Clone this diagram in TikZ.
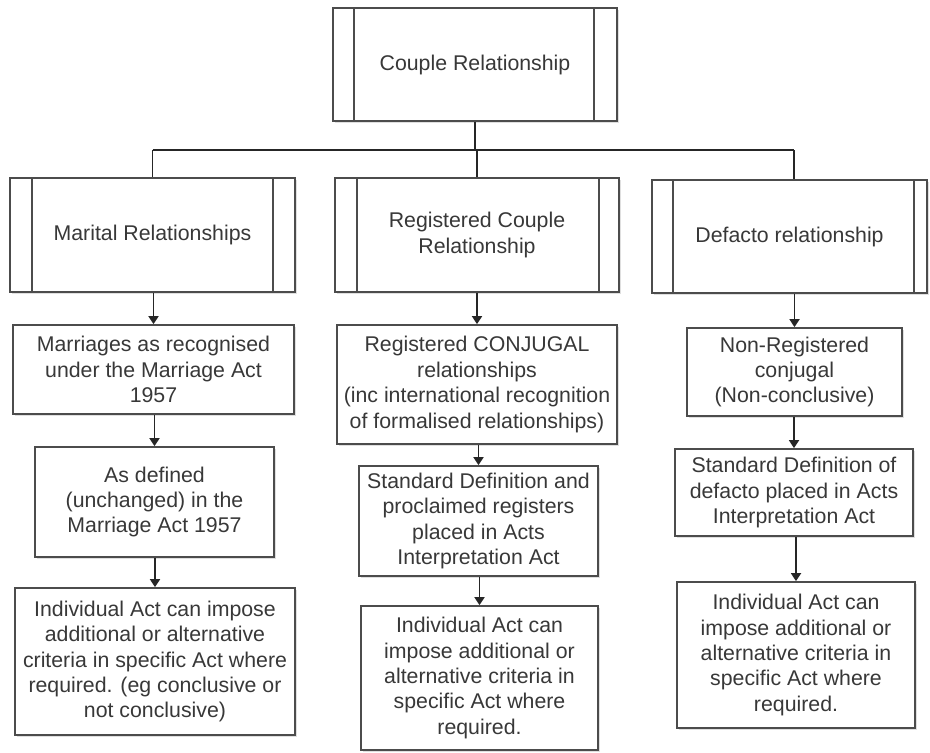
\documentclass[tikz,border=0pt]{standalone}
\usepackage{fontspec}
\setmainfont{Liberation Sans}
\usetikzlibrary{arrows.meta,shadows}
\begin{document}
\begin{tikzpicture}[x=1pt,y=-1pt,
  box/.style={draw=black!70, line width=1.8pt, fill=white, inner sep=0pt, align=center,
    font=\fontsize{21.3}{25.4}\selectfont, text=black!78,
    drop shadow={shadow xshift=1.5pt, shadow yshift=-2pt, opacity=0.25}},
  conn/.style={draw=black!85, line width=1.8pt},
  arr/.style={conn, -{Triangle[length=8pt,width=10pt]}},
  inner/.style={draw=black!70, line width=1.8pt}]
\useasboundingbox (0,0) rectangle (930,753);
\fill[white] (0,0) rectangle (930,753);

% top level
\node[box, minimum width=284pt, minimum height=113pt] (top) at (475,64.5) {Couple Relationship};

% second level (predefined process boxes)
\node[box, minimum width=285pt, minimum height=114pt] (marital) at (152.5,235) {Marital Relationships};
\node[box, minimum width=284pt, minimum height=114pt] (regcouple) at (477,235) {Registered Couple\\Relationship};
\node[box, minimum width=275pt, minimum height=113pt] (defacto) at (789.5,236.5) {Defacto relationship};

% inner lines of predefined-process boxes
\draw[inner] ([xshift=22pt]top.north west) -- ([xshift=22pt]top.south west);
\draw[inner] ([xshift=-24pt]top.north east) -- ([xshift=-24pt]top.south east);
\draw[inner] ([xshift=23pt]marital.north west) -- ([xshift=23pt]marital.south west);
\draw[inner] ([xshift=-23pt]marital.north east) -- ([xshift=-23pt]marital.south east);
\draw[inner] ([xshift=23pt]regcouple.north west) -- ([xshift=23pt]regcouple.south west);
\draw[inner] ([xshift=-21pt]regcouple.north east) -- ([xshift=-21pt]regcouple.south east);
\draw[inner] ([xshift=22pt]defacto.north west) -- ([xshift=22pt]defacto.south west);
\draw[inner] ([xshift=-14pt]defacto.north east) -- ([xshift=-14pt]defacto.south east);

% left column
\node[box, minimum width=281pt, minimum height=89pt] (marriages) at (153.5,369.5) {Marriages as recognised\\under the Marriage Act\\1957};
\node[box, minimum width=239pt, minimum height=110pt] (asdefined) at (154.5,502) {As defined\\(unchanged) in the\\Marriage Act 1957};
\node[box, minimum width=280pt, minimum height=147pt] (indivl) at (155,661.5) {Individual Act can impose\\additional or alternative\\criteria in specific Act where\\required. (eg conclusive or\\not conclusive)};

% middle column
\node[box, minimum width=280pt, minimum height=119pt] (regconj) at (477,384.5) {Registered CONJUGAL\\relationships\\(inc international recognition\\of formalised relationships)};
\node[box, minimum width=239pt, minimum height=110pt] (stdm) at (478.5,521) {Standard Definition and\\proclaimed registers\\placed in Acts\\Interpretation Act};
\node[box, minimum width=237pt, minimum height=144pt] (indivm) at (479.5,678) {Individual Act can\\impose additional or\\alternative criteria in\\specific Act where\\required.};

% right column
\node[box, minimum width=215pt, minimum height=88pt] (nonreg) at (794.5,372) {Non-Registered\\conjugal\\(Non-conclusive)};
\node[box, minimum width=238pt, minimum height=87pt] (stdr) at (794,492.5) {Standard Definition of\\defacto placed in Acts\\Interpretation Act};
\node[box, minimum width=238pt, minimum height=146pt] (indivr) at (796,655) {Individual Act can\\impose additional or\\alternative criteria in\\specific Act where\\required.};

% tree connectors
\coordinate (bus) at (475,150);
\draw[conn] (top.south) -- (top.south |- bus);
\draw[conn] (marital.north |- bus) -- ([xshift=4.5pt]defacto.north |- bus);
\draw[conn] (marital.north |- bus) -- (marital.north);
\draw[conn] (regcouple.north |- bus) -- (regcouple.north);
\draw[conn] ([xshift=4.5pt]defacto.north |- bus) -- ([xshift=4.5pt]defacto.north);

% arrows
\draw[arr] (marriages.north |- marital.south) -- (marriages.north);
\draw[arr] (asdefined.north |- marriages.south) -- (asdefined.north);
\draw[arr] (indivl.north |- asdefined.south) -- (indivl.north);
\draw[arr] (regconj.north |- regcouple.south) -- (regconj.north);
\draw[arr] (stdm.north |- regconj.south) -- (stdm.north);
\draw[arr] (indivm.north |- stdm.south) -- (indivm.north);
\draw[arr] (nonreg.north |- defacto.south) -- (nonreg.north);
\draw[arr] (stdr.north |- nonreg.south) -- (stdr.north);
\draw[arr] (indivr.north |- stdr.south) -- (indivr.north);
\end{tikzpicture}
\end{document}
